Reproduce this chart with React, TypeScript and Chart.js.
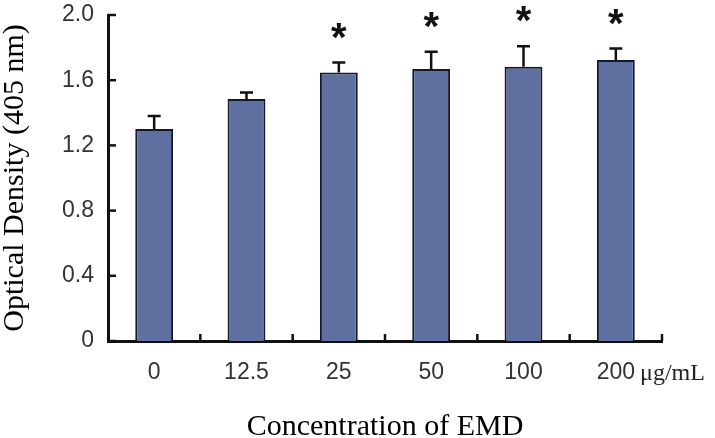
import React, { useEffect, useRef } from "react";
import { Chart, registerables } from "chart.js";

Chart.register(...registerables);

const categories = ["0", "12.5", "25", "50", "100", "200"];
const means = [1.3, 1.485, 1.648, 1.669, 1.683, 1.724];
const errors = [0.08, 0.04, 0.06, 0.105, 0.125, 0.07];
const significant = [false, false, true, true, true, true];
const yTicks = [0, 0.4, 0.8, 1.2, 1.6, 2.0];
const unitLabel = "μg/mL";
const xTitle = "Concentration of EMD";
const yTitle = "Optical Density (405 nm)";

const AXIS_COLOR = "#111";
const BAR_COLOR = "#5f6f9f";
const TICK_FONT = "'Liberation Sans', Arial, sans-serif";
const TICK_SIZE = 23;
const SERIF = "'Liberation Serif', 'Times New Roman', serif";

const decorPlugin = {
  id: "decor",
  afterDatasetsDraw(chart: any) {
    const { ctx } = chart;
    const x = chart.scales.x;
    const y = chart.scales.y;
    const meta = chart.getDatasetMeta(0);
    ctx.save();
    // error bars
    ctx.strokeStyle = AXIS_COLOR;
    ctx.lineWidth = 2.5;
    meta.data.forEach((bar: any, i: number) => {
      const cx = bar.x;
      const top = y.getPixelForValue(means[i]);
      const cap = y.getPixelForValue(means[i] + errors[i]);
      ctx.beginPath();
      ctx.moveTo(cx, top);
      ctx.lineTo(cx, cap);
      ctx.moveTo(cx - 6.5, cap);
      ctx.lineTo(cx + 6.5, cap);
      ctx.stroke();
      if (significant[i]) {
        ctx.fillStyle = AXIS_COLOR;
        ctx.font = "bold 40px 'Liberation Sans', Arial, sans-serif";
        ctx.textAlign = "center";
        ctx.textBaseline = "middle";
        ctx.fillText("*", cx, cap - 23);
      }
    });
    // y ticks inward
    ctx.lineWidth = 2.5;
    yTicks.forEach((v) => {
      const py = y.getPixelForValue(v);
      ctx.beginPath();
      ctx.moveTo(x.left, py);
      ctx.lineTo(x.left + 8, py);
      ctx.stroke();
    });
    // x divider ticks upward
    const n = categories.length;
    const step = (x.right - x.left) / n;
    for (let i = 1; i <= n; i++) {
      const px = x.left + step * i;
      ctx.beginPath();
      ctx.moveTo(px, y.bottom);
      ctx.lineTo(px, y.bottom - 7);
      ctx.stroke();
    }
    // unit label next to last tick
    const lastX = x.getPixelForTick(n - 1);
    ctx.font = TICK_SIZE + "px " + TICK_FONT;
    const w = ctx.measureText(categories[n - 1]).width;
    ctx.fillStyle = "#222";
    ctx.font = "24px " + SERIF;
    ctx.textAlign = "left";
    ctx.textBaseline = "middle";
    ctx.fillText(unitLabel, lastX + w / 2 + 5, y.bottom + 33);
    ctx.restore();
  },
};

export default function App() {
  const ref = useRef<HTMLCanvasElement>(null);
  useEffect(() => {
    if (!ref.current) return;
    const chart = new Chart(ref.current, {
      type: "bar",
      data: {
        labels: categories,
        datasets: [
          {
            data: means,
            backgroundColor: BAR_COLOR,
            borderColor: "#14182a",
            borderWidth: 2,
            borderSkipped: "bottom",
            categoryPercentage: 1,
            barPercentage: 0.41,
          },
        ],
      },
      options: {
        responsive: false,
        animation: false,
        layout: { padding: { left: 0, right: 53, top: 15, bottom: 0 } },
        plugins: { legend: { display: false }, tooltip: { enabled: false } },
        scales: {
          x: {
            grid: { display: false, drawTicks: false },
            border: { display: true, color: AXIS_COLOR, width: 3 },
            ticks: {
              color: "#333",
              font: { family: TICK_FONT, size: TICK_SIZE },
              padding: 18,
              maxRotation: 0,
            },
            title: {
              display: true,
              text: xTitle,
              color: "#000",
              font: { family: SERIF, size: 30, lineHeight: 0.75 },
              padding: 0,
            },
            afterFit: (s: any) => {
              s.height = 97;
            },
          },
          y: {
            min: 0,
            max: 2,
            afterBuildTicks: (s: any) => {
              s.ticks = yTicks.map((v) => ({ value: v }));
            },
            grid: { display: false, drawTicks: false },
            border: { display: true, color: AXIS_COLOR, width: 3 },
            ticks: {
              color: "#333",
              font: { family: TICK_FONT, size: TICK_SIZE },
              padding: 14,
              callback: (v: any) => (v === 0 ? "0" : Number(v).toFixed(1)),
            },
            title: {
              display: true,
              text: yTitle,
              color: "#000",
              font: { family: SERIF, size: 30, lineHeight: 1 },
              padding: 0,
            },
            afterFit: (s: any) => {
              s.width = 108;
              s.paddingTop = 0;
              s.paddingBottom = 0;
            },
          },
        },
      },
      plugins: [decorPlugin],
    });
    return () => chart.destroy();
  }, []);
  return (
    <div style={{ position: "fixed", left: 0, top: 0, width: 715, height: 438, background: "#fff" }}>
      <canvas ref={ref} width={715} height={438} />
    </div>
  );
}
